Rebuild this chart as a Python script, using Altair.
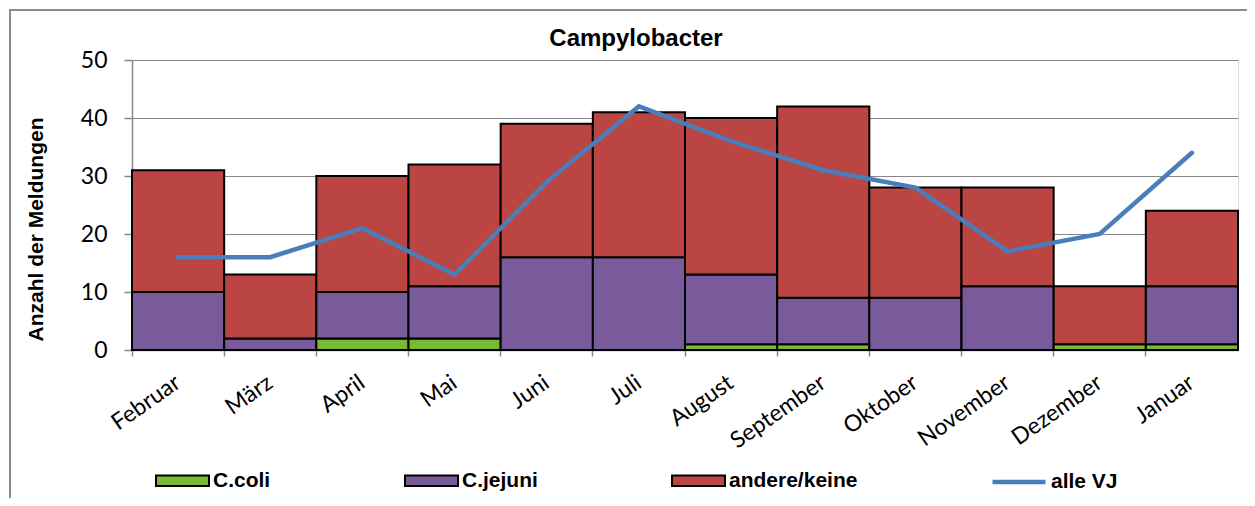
import altair as alt
import pandas as pd

# ---- data ----
months = ["Februar", "März", "April", "Mai", "Juni", "Juli", "August",
          "September", "Oktober", "November", "Dezember", "Januar"]
coli = [0, 0, 2, 2, 0, 0, 1, 1, 0, 0, 1, 1]
jejuni = [10, 2, 8, 9, 16, 16, 12, 8, 9, 11, 0, 10]
andere = [21, 11, 20, 21, 23, 25, 27, 33, 19, 17, 10, 13]
alle_vj = [16, 16, 21, 13, 29, 42, 36, 31, 28, 17, 20, 34]

series_names = ["C.coli", "C.jejuni", "andere/keine"]
bar_colors = ["#78b833", "#795a9a", "#ba4543"]
line_name = "alle VJ"
line_color = "#4a7ebb"
y_ticks = [0, 10, 20, 30, 40, 50]
chart_title = "Campylobacter"
y_title = "Anzahl der Meldungen"

# ---- tables ----
rows = []
for i, m in enumerate(months):
    for k, (name, vals) in enumerate(zip(series_names, [coli, jejuni, andere])):
        if vals[i] > 0:
            rows.append({"Monat": m, "Serie": name, "Anzahl": vals[i], "ord": k})
bars_df = pd.DataFrame(rows)
line_df = pd.DataFrame({"Monat": months, "Anzahl": alle_vj,
                        "Serie": [line_name] * len(months)})

W, H = 1106, 290
PAD_L, PAD_T = 124, 52
TOTAL_W, TOTAL_H = 1239, 490
GRAY = "#878787"

x_enc = alt.X(
    "Monat:N", sort=months,
    scale=alt.Scale(paddingInner=0, paddingOuter=0),
    axis=alt.Axis(title=None, bandPosition=0,
                  labelAngle=-35, labelAlign="right", labelBaseline="middle",
                  labelFont="Lato", labelFontSize=23, labelColor="black",
                  labelPadding=24, tickSize=6, tickColor=GRAY, tickWidth=1.5,
                  domainColor=GRAY, domainWidth=1.5, grid=False),
)

y_scale = alt.Scale(domain=[0, 50], nice=False)
y_axis = alt.Axis(values=y_ticks, labelFont="Lato", labelFontSize=23,
                  labelColor="black", labelPadding=17, tickSize=8,
                  tickColor=GRAY, tickWidth=1.5, domainColor=GRAY,
                  domainWidth=1.5, grid=True, gridColor=GRAY, gridWidth=1,
                  title=y_title, titleFont="Liberation Sans", titleFontSize=21,
                  titleFontWeight="bold", titleColor="black", titleAngle=270,
                  titleX=-96, titleY=169, titleAlign="center",
                  titleBaseline="middle")

bars = alt.Chart(bars_df).mark_bar(stroke="black", strokeWidth=2).encode(
    x=x_enc,
    y=alt.Y("Anzahl:Q", stack="zero", scale=y_scale, axis=y_axis),
    fill=alt.Fill("Serie:N",
                  scale=alt.Scale(domain=series_names, range=bar_colors),
                  legend=alt.Legend(title=None, orient="none", legendX=23,
                                    legendY=393, direction="horizontal",
                                    columns=3, columnPadding=130, padding=0,
                                    symbolType="M-1,-0.2H1V0.2H-1Z",
                                    symbolSize=2809, symbolStrokeColor="black",
                                    symbolStrokeWidth=2, symbolOpacity=1,
                                    labelFont="Liberation Sans",
                                    labelFontSize=21, labelFontWeight="bold",
                                    labelColor="black", labelOffset=3)),
    order=alt.Order("ord:Q", sort="ascending"),
)

line = alt.Chart(line_df).mark_line(strokeWidth=4.5, strokeCap="round",
                                     strokeJoin="miter").encode(
    x=x_enc,
    y=alt.Y("Anzahl:Q", scale=y_scale, axis=y_axis),
    stroke=alt.Stroke("Serie:N",
                      scale=alt.Scale(domain=[line_name], range=[line_color]),
                      legend=alt.Legend(title=None, orient="none", legendX=858,
                                        legendY=393, padding=0,
                                        symbolType="stroke", symbolSize=2809,
                                        symbolStrokeWidth=4.5,
                                        labelFont="Liberation Sans",
                                        labelFontSize=21, labelFontWeight="bold",
                                        labelColor="black", labelOffset=3)),
)

border = alt.Chart(pd.DataFrame({"a": [0]})).mark_rect(
    filled=False, stroke="#8c8c8c", strokeWidth=2).encode(
    x=alt.value(-PAD_L + 2), x2=alt.value(W + 300),
    y=alt.value(-PAD_T + 2), y2=alt.value(H + 400),
)

title = alt.Chart(pd.DataFrame({"t": [chart_title]})).mark_text(
    font="Liberation Sans", fontSize=24, fontWeight="bold", color="black",
    align="center", baseline="alphabetic").encode(
    text="t:N", x=alt.value(504), y=alt.value(-14),
)

chart = alt.layer(border, bars, line, title).properties(
    width=W, height=H,
    autosize=alt.AutoSizeParams(type="none"),
    padding={"left": PAD_L, "top": PAD_T,
             "right": TOTAL_W - PAD_L - W, "bottom": TOTAL_H - PAD_T - H},
).resolve_scale(fill="independent", stroke="independent").configure_view(
    stroke=None
).configure(background="white")

chart.save("out.html", embed_options={"renderer": "svg", "actions": False})
